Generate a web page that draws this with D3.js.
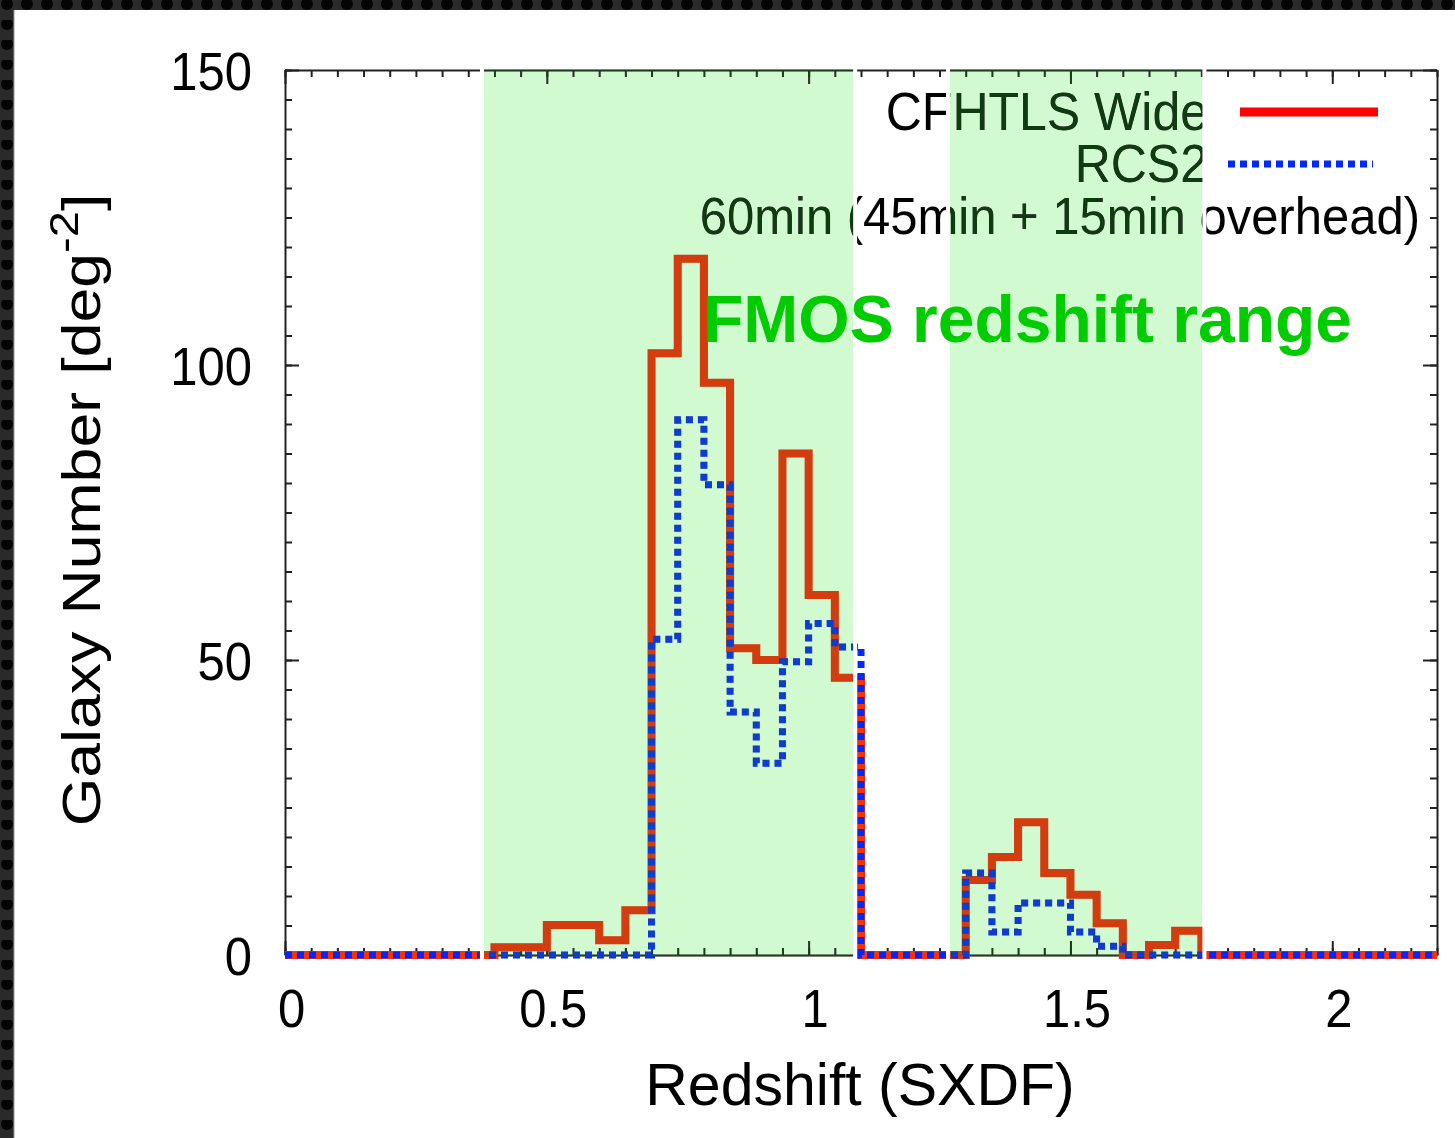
<html>
	<head>
		<meta content="text/html;charset=utf-8" http-equiv="Content-Type">
		<script src="https://d3js.org/d3.v7.min.js"></script>
		<style>
			body { margin: 0; background: #fff; }
			svg { display: block; }
			text { font-family: "Liberation Sans", Arial, sans-serif; }
		</style>
	</head>
	<body>
		<svg id="chart"></svg>
		<script>

			// redshift bins (left edges, width 0.05)
			var zBins = [0, 0.05, 0.1, 0.15, 0.2, 0.25, 0.3, 0.35, 0.4, 0.45, 0.5, 0.55, 0.6, 0.65, 0.7, 0.75,
				0.8, 0.85, 0.9, 0.95, 1.0, 1.05, 1.1, 1.15, 1.2, 1.25, 1.3, 1.35, 1.4, 1.45, 1.5, 1.55,
				1.6, 1.65, 1.7, 1.75, 1.8, 1.85, 1.9, 1.95, 2.0, 2.05, 2.1, 2.15];
			var zMax = 2.2;
			// galaxy number per bin [deg^-2]
			var cfhtlsWide = [0, 0, 0, 0, 0, 0, 0, 0, 1.3, 1.3, 5.1, 5.1, 2.5, 7.6, 102, 118,
				97, 52, 50, 85, 61, 47, 0, 0, 0, 0, 12.7, 16.6, 22.5, 13.9, 10.2, 5.4,
				0, 1.7, 4.1, 0, 0, 0, 0, 0, 0, 0, 0, 0];
			var rcs2 = [0, 0, 0, 0, 0, 0, 0, 0, 0, 0, 0, 0, 0, 0, 53.5, 90.7,
				79.7, 41.2, 32.5, 49.7, 56.2, 52.2, 0, 0, 0, 0, 13.9, 3.9, 8.8, 8.8, 3.9, 1.5,
				0, 0, 0, 0, 0, 0, 0, 0, 0, 0, 0, 0];
			// FMOS redshift ranges (shaded)
			var fmosBands = [[0.38, 1.085], [1.27, 1.752]];
			var xTicks = [0, 0.5, 1, 1.5, 2];
			var yTicks = [0, 50, 100, 150];
			var legendNames = ["CFHTLS Wide", "RCS2"];

			var W = 1455, H = 1138;
			var svg = d3.select("#chart").attr("width", W).attr("height", H);

			var x = d3.scaleLinear().domain([0, zMax]).range([285, 1437]);
			var y = d3.scaleLinear().domain([0, 150]).range([955, 70]);

			// dark dotted frame at top and left
			var defs = svg.append("defs");
			var pat = defs.append("pattern").attr("id", "dots")
				.attr("width", 20).attr("height", 20).attr("patternUnits", "userSpaceOnUse");
			pat.append("rect").attr("width", 20).attr("height", 20).attr("fill", "#2a2a2a");
			pat.append("circle").attr("cx", 7).attr("cy", 4).attr("r", 6).attr("fill", "#050505");
			svg.append("rect").attr("x", 0).attr("y", 0).attr("width", W).attr("height", H).attr("fill", "#fff");
			svg.append("rect").attr("x", 0).attr("y", 0).attr("width", W).attr("height", 10).attr("fill", "url(#dots)");
			svg.append("rect").attr("x", 0).attr("y", 0).attr("width", 14).attr("height", H).attr("fill", "url(#dots)");
			svg.append("line").attr("x1", 14).attr("x2", 14).attr("y1", 10).attr("y2", H)
				.style("stroke", "#999").style("stroke-width", 1);

			// axes: ticks inward on all four sides
			function styleAxis(g) {
				g.select(".domain").style("stroke", "#222").style("stroke-width", 2);
				g.selectAll(".tick line").style("stroke", "#222").style("stroke-width", 2);
			}
			var minorX = d3.range(0, zMax + 0.001, 0.05);
			var minorY = d3.range(0, 151, 5);

			var gB = svg.append("g").attr("transform", "translate(0,955)");
			gB.call(d3.axisBottom(x).tickValues(minorX).tickSizeInner(-7).tickSizeOuter(0).tickFormat(""));
			styleAxis(gB);
			var gB2 = svg.append("g").attr("transform", "translate(0,955)");
			gB2.call(d3.axisBottom(x).tickValues(xTicks).tickSizeInner(-14).tickSizeOuter(0).tickFormat(d3.format("")));
			styleAxis(gB2);
			gB2.select(".domain").remove();
			gB2.selectAll(".tick text")
				.attr("x", 0).attr("y", 0).attr("dy", null)
				.attr("transform", "translate(6,72) scale(1,1.08)")
				.style("font-size", "49px").style("fill", "#000")
				.style("font-family", "'Liberation Sans', Arial, sans-serif");

			var gT = svg.append("g").attr("transform", "translate(0,70)");
			gT.call(d3.axisTop(x).tickValues(minorX).tickSizeInner(-7).tickSizeOuter(0).tickFormat(""));
			styleAxis(gT);
			var gT2 = svg.append("g").attr("transform", "translate(0,70)");
			gT2.call(d3.axisTop(x).tickValues(xTicks).tickSizeInner(-14).tickSizeOuter(0).tickFormat(""));
			styleAxis(gT2);
			gT2.select(".domain").remove();

			var gL = svg.append("g").attr("transform", "translate(285,0)");
			gL.call(d3.axisLeft(y).tickValues(minorY).tickSizeInner(-7).tickSizeOuter(0).tickFormat(""));
			styleAxis(gL);
			var gL2 = svg.append("g").attr("transform", "translate(285,0)");
			gL2.call(d3.axisLeft(y).tickValues(yTicks).tickSizeInner(-14).tickSizeOuter(0).tickFormat(d3.format("")));
			styleAxis(gL2);
			gL2.select(".domain").remove();
			gL2.selectAll(".tick text")
				.attr("x", 0).attr("y", 0).attr("dy", null)
				.attr("text-anchor", "end")
				.attr("transform", "translate(-33,19) scale(1,1.08)")
				.style("font-size", "49px").style("fill", "#000")
				.style("font-family", "'Liberation Sans', Arial, sans-serif");

			var gR = svg.append("g").attr("transform", "translate(1437,0)");
			gR.call(d3.axisRight(y).tickValues(minorY).tickSizeInner(-7).tickSizeOuter(0).tickFormat(""));
			styleAxis(gR);
			var gR2 = svg.append("g").attr("transform", "translate(1437,0)");
			gR2.call(d3.axisRight(y).tickValues(yTicks).tickSizeInner(-14).tickSizeOuter(0).tickFormat(""));
			styleAxis(gR2);
			gR2.select(".domain").remove();

			// step histograms
			var step = d3.line()
				.x(function(d){ return x(d[0]); })
				.y(function(d){ return y(d[1]); })
				.curve(d3.curveStepAfter);
			function pts(vals) {
				var p = zBins.map(function(z, i){ return [z, vals[i]]; });
				p.push([zMax, vals[vals.length - 1]]);
				return p;
			}
			svg.append("path").attr("d", step(pts(cfhtlsWide)))
				.attr("fill", "none").style("stroke", "#ff3000").style("stroke-width", 8)
				.style("stroke-linejoin", "miter");
			svg.append("path").attr("d", step(pts(rcs2)))
				.attr("fill", "none").style("stroke", "#0028ff").style("stroke-width", 7)
				.style("stroke-dasharray", "7,5");

			// legend
			var legendFont = "50px";
			svg.append("text").attr("transform", "translate(1208,130) scale(1,1.06)")
				.attr("text-anchor", "end").style("font-size", legendFont).text(legendNames[0]);
			svg.append("line").attr("x1", 1240).attr("x2", 1378).attr("y1", 112).attr("y2", 112)
				.style("stroke", "#ff0000").style("stroke-width", 9);
			svg.append("text").attr("transform", "translate(1208,182) scale(1,1.06)")
				.attr("text-anchor", "end").style("font-size", legendFont).text(legendNames[1]);
			svg.append("line").attr("x1", 1228).attr("x2", 1373).attr("y1", 164).attr("y2", 164)
				.style("stroke", "#0028ff").style("stroke-width", 7).style("stroke-dasharray", "7,5");
			svg.append("text").attr("transform", "translate(1420,234) scale(1,1.06)")
				.attr("text-anchor", "end").style("font-size", "49px")
				.text("60min (45min + 15min overhead)");

			// FMOS shaded ranges: tint what lies below
			fmosBands.forEach(function(b){
				svg.append("rect").attr("x", x(b[0])).attr("y", 69)
					.attr("width", x(b[1]) - x(b[0])).attr("height", 888)
					.attr("fill", "#d2fad0").style("mix-blend-mode", "multiply");
				svg.append("rect").attr("x", x(b[0])).attr("y", 69)
					.attr("width", x(b[1]) - x(b[0])).attr("height", 888)
					.attr("fill", "#0f3c0f").style("mix-blend-mode", "lighten");
				// thin white margins of the pasted boxes
				svg.append("rect").attr("x", x(b[0]) - 4).attr("y", 64)
					.attr("width", 4).attr("height", 898).attr("fill", "#fff");
				svg.append("rect").attr("x", x(b[1])).attr("y", 64)
					.attr("width", 4).attr("height", 898).attr("fill", "#fff");
			});

			svg.append("text").attr("x", 703).attr("y", 342)
				.style("font-size", "66px").style("font-weight", "bold").style("fill", "#00cc00")
				.text("FMOS redshift range");

			// axis titles
			svg.append("text").attr("x", 860).attr("y", 1105)
				.attr("text-anchor", "middle").style("font-size", "59px")
				.text("Redshift (SXDF)");
			var yl = svg.append("text").attr("transform", "translate(100,510) rotate(-90) scale(1.18,1)")
				.attr("text-anchor", "middle").style("font-size", "53px");
			yl.append("tspan").text("Galaxy Number [deg");
			yl.append("tspan").attr("dy", -22).style("font-size", "40px").text("-2");
			yl.append("tspan").attr("dy", 22).text("]");

		</script>
	</body>
</html>
